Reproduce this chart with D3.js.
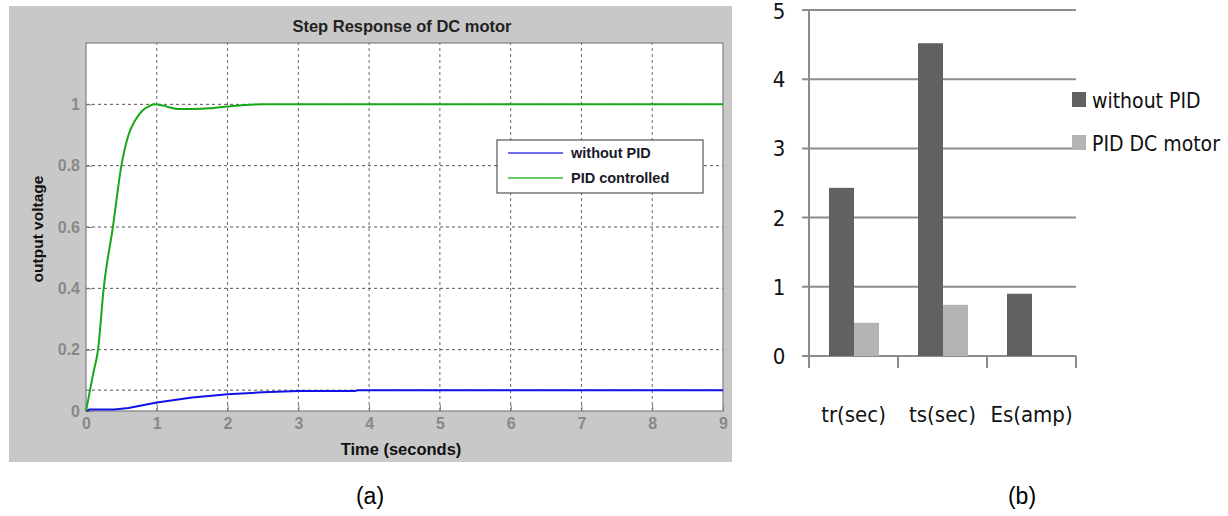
<!DOCTYPE html>
<html>
<head>
<meta charset="utf-8">
<script src="https://cdn.jsdelivr.net/npm/d3@7"></script>
<style>
  body { margin: 0; background: #fff; }
  svg { display: block; }
</style>
</head>
<body>
<div id="svg"></div>
<script>
// step response data (a)
var timeBlue  = [0, 0.05, 0.4, 0.6, 1.0, 1.5, 2.0, 2.5, 3.0, 3.8, 3.85, 9];
var voltBlue  = [0, 0.005, 0.005, 0.01, 0.028, 0.044, 0.055, 0.061, 0.065, 0.065, 0.068, 0.068];
var timeGreen = [0, 0.05, 0.1, 0.17, 0.25, 0.38, 0.5, 0.6, 0.7, 0.8, 0.9, 0.97, 1.1, 1.3, 1.5, 1.75, 2.0, 2.2, 2.5, 9];
var voltGreen = [0, 0.06, 0.12, 0.2, 0.4, 0.6, 0.8, 0.9, 0.95, 0.98, 0.995, 1.0, 0.995, 0.985, 0.985, 0.987, 0.993, 0.997, 1.0, 1.0];
var xTicks = [0, 1, 2, 3, 4, 5, 6, 7, 8, 9];
var yTicks = [0, 0.2, 0.4, 0.6, 0.8, 1];
var steadyBlue = 0.068;
var legendA = ["without PID", "PID controlled"];

// bar chart data (b)
var categories = ["tr(sec)", "ts(sec)", "Es(amp)"];
var seriesNames = ["without PID", "PID DC motor"];
var withoutPID = [2.43, 4.52, 0.9];
var pidMotor = [0.48, 0.74, 0];
var barTicks = [0, 1, 2, 3, 4, 5];

var W = 1228, H = 516;
var arial = "Arial, 'Liberation Sans', sans-serif";
var svg = d3.select("#svg").append("svg").attr("width", W).attr("height", H);

// ---------- (a) ----------
svg.append("rect").attr("x", 9).attr("y", 6).attr("width", 723).attr("height", 456).style("fill", "#c8c8c8");

var x = d3.scaleLinear().domain([0, 9]).range([86, 723]);
var y = d3.scaleLinear().domain([0, 1.2]).range([411, 43]);

svg.append("rect").attr("x", x(0)).attr("y", y(1.2)).attr("width", x(9) - x(0)).attr("height", y(0) - y(1.2))
  .style("fill", "#fff");

// grid
svg.append("g").selectAll("line").data(xTicks.slice(1, -1)).enter().append("line")
  .attr("x1", function (d) { return x(d); }).attr("x2", function (d) { return x(d); })
  .attr("y1", y(0)).attr("y2", y(1.2))
  .style("stroke", "#666").style("stroke-width", 1).style("stroke-dasharray", "3,3");
svg.append("g").selectAll("line").data(yTicks.slice(1).concat([steadyBlue])).enter().append("line")
  .attr("x1", x(0)).attr("x2", x(9))
  .attr("y1", function (d) { return y(d); }).attr("y2", function (d) { return y(d); })
  .style("stroke", "#555").style("stroke-width", 1).style("stroke-dasharray", "3,3");

// axes
var xAxis = svg.append("g").attr("transform", "translate(0," + y(0) + ")")
  .call(d3.axisBottom(x).tickValues(xTicks).tickSize(-6).tickPadding(7).tickFormat(d3.format("d")));
var yAxis = svg.append("g").attr("transform", "translate(" + x(0) + ",0)")
  .call(d3.axisLeft(y).tickValues(yTicks).tickSize(-6).tickPadding(6).tickFormat(function (d) { return d; }));
[xAxis, yAxis].forEach(function (g) {
  g.select(".domain").remove();
  g.selectAll("line").style("stroke", "#777");
  g.selectAll("text").style("fill", "#888").style("font-family", arial)
    .style("font-size", "16px").style("font-weight", "bold");
});
svg.append("rect").attr("x", x(0)).attr("y", y(1.2)).attr("width", x(9) - x(0)).attr("height", y(0) - y(1.2))
  .style("fill", "none").style("stroke", "#808080").style("stroke-width", 1.2);

// curves
var blueData = timeBlue.map(function (t, i) { return [t, voltBlue[i]]; });
var greenData = timeGreen.map(function (t, i) { return [t, voltGreen[i]]; });
var line = d3.line().x(function (d) { return x(d[0]); }).y(function (d) { return y(d[1]); });
svg.append("path").datum(blueData).attr("d", line.curve(d3.curveLinear))
  .style("fill", "none").style("stroke", "#1212e6").style("stroke-width", 2);
svg.append("path").datum(greenData).attr("d", line.curve(d3.curveMonotoneX))
  .style("fill", "none").style("stroke", "#16a816").style("stroke-width", 2);

// titles
svg.append("text").attr("x", 402).attr("y", 32).attr("text-anchor", "middle")
  .style("font-family", arial).style("font-size", "16.5px").style("font-weight", "bold")
  .style("fill", "#222").text("Step Response of DC motor");
svg.append("text").attr("x", 401).attr("y", 455).attr("text-anchor", "middle")
  .style("font-family", arial).style("font-size", "16.5px").style("font-weight", "bold")
  .style("fill", "#111").text("Time (seconds)");
svg.append("text").attr("transform", "translate(43,229) rotate(-90)").attr("text-anchor", "middle")
  .style("font-family", arial).style("font-size", "15.5px").style("font-weight", "bold")
  .style("fill", "#111").text("output voltage");

// legend (a)
var leg = svg.append("g");
leg.append("rect").attr("x", 497).attr("y", 140).attr("width", 206).attr("height", 53)
  .style("fill", "#fff").style("stroke", "#333").style("stroke-width", 1);
var legColors = ["#3a3aef", "#3cb43c"];
legendA.forEach(function (name, i) {
  var ly = 153 + i * 25;
  leg.append("line").attr("x1", 508).attr("x2", 563).attr("y1", ly).attr("y2", ly)
    .style("stroke", legColors[i]).style("stroke-width", 1.5);
  leg.append("text").attr("x", 571).attr("y", ly + 5)
    .style("font-family", arial).style("font-size", "14.5px").style("font-weight", "bold")
    .style("fill", "#1a1a2a").text(name);
});

// ---------- (b) ----------
var narrow = "'Liberation Sans Narrow', 'DejaVu Sans Condensed', 'Roboto Condensed', sans-serif";
var x0 = d3.scaleBand().domain(categories).range([809, 1076]).padding(0);
var x1 = d3.scaleBand().domain(seriesNames).range([20, 70]);
var yb = d3.scaleLinear().domain([0, 5]).range([356, 10]);
var barColors = ["#616161", "#b3b3b3"];

svg.append("g").selectAll("line").data(barTicks).enter().append("line")
  .attr("x1", 802).attr("x2", 1076)
  .attr("y1", function (d) { return yb(d); }).attr("y2", function (d) { return yb(d); })
  .style("stroke", "#8c8c8c").style("stroke-width", 2);
svg.append("line").attr("x1", 809).attr("x2", 809).attr("y1", yb(5)).attr("y2", 368)
  .style("stroke", "#8c8c8c").style("stroke-width", 2);
svg.append("g").selectAll("line").data([1076].concat(categories.slice(1).map(function (c) { return x0(c); }))).enter().append("line")
  .attr("x1", function (d) { return d; }).attr("x2", function (d) { return d; })
  .attr("y1", yb(0)).attr("y2", 368)
  .style("stroke", "#8c8c8c").style("stroke-width", 2);

var groups = svg.append("g").selectAll("g").data(categories).enter().append("g")
  .attr("transform", function (c) { return "translate(" + x0(c) + ",0)"; });
groups.selectAll("rect")
  .data(function (c, i) { return [withoutPID[i], pidMotor[i]].map(function (v, j) { return { s: seriesNames[j], v: v, j: j }; }); })
  .enter().append("rect")
  .attr("x", function (d) { return x1(d.s); })
  .attr("width", x1.bandwidth())
  .attr("y", function (d) { return yb(d.v); })
  .attr("height", function (d) { return yb(0) - yb(d.v); })
  .style("fill", function (d) { return barColors[d.j]; });

svg.append("g").selectAll("text").data(barTicks).enter().append("text")
  .attr("x", 779).attr("y", function (d) { return Math.max(yb(d) + 8, 19); }).attr("text-anchor", "middle")
  .style("font-family", narrow).style("font-size", "22px").style("fill", "#111")
  .text(function (d) { return d; });

svg.append("g").selectAll("text").data(categories).enter().append("text")
  .attr("x", function (c) { return x0(c) + x0.bandwidth() / 2; }).attr("y", 422).attr("text-anchor", "middle")
  .style("font-family", narrow).style("font-size", "22px").style("fill", "#111")
  .text(function (c) { return c; });

// legend (b)
seriesNames.forEach(function (name, i) {
  var ly = 100 + i * 43;
  svg.append("rect").attr("x", 1072).attr("y", ly - 8).attr("width", 14).attr("height", 15).style("fill", barColors[i]);
  svg.append("text").attr("x", 1092).attr("y", ly + 8)
    .style("font-family", narrow).style("font-size", "21px").style("fill", "#111").text(name);
});

// panel captions
svg.append("text").attr("x", 370).attr("y", 504).attr("text-anchor", "middle")
  .style("font-family", arial).style("font-size", "23px").style("fill", "#000").text("(a)");
svg.append("text").attr("x", 1022).attr("y", 504).attr("text-anchor", "middle")
  .style("font-family", arial).style("font-size", "23px").style("fill", "#000").text("(b)");
</script>
</body>
</html>
